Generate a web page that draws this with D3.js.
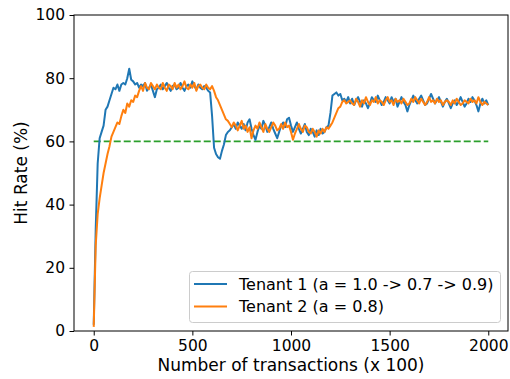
<!DOCTYPE html>
<html>
<head>
<meta charset="utf-8">
<script src="https://cdn.jsdelivr.net/npm/d3@7"></script>
<style>
  body { margin: 0; background: #fff; }
  svg { display: block; font-family: "DejaVu Sans", sans-serif; }
</style>
</head>
<body>
<div id="chart"></div>
<script>
// sampling grid: one point every 10 units (x 100 transactions)
const transactions = d3.range(0, 2001, 10);

// Tenant 1 hit rate (%)
const tenant1 = [
  2, 32, 53, 61, 63, 65, 70, 71, 73, 75,
  77, 76.5, 78, 76, 78, 78.5, 78, 80, 83, 79.5,
  79, 78, 78.5, 77, 78, 77.5, 78.5, 76, 77, 78,
  76, 74, 76.5, 77, 78, 76.5, 77.5, 78.5, 77, 76,
  77.5, 78, 76.5, 77, 78.5, 77, 76, 77.5, 78, 77,
  79, 77.5, 76.5, 78, 77, 76.5, 77.5, 77, 76, 75.5,
  68, 58, 56, 55, 54.5, 57, 59, 62, 63, 63.5,
  64.5, 65.5, 64, 66, 65, 64, 65.5, 63.5, 66, 67,
  64, 62, 60.5, 63, 65, 64, 66.5, 65, 63, 64.5,
  66, 64, 62.5, 61, 63, 65, 66, 64.5, 67, 67.5,
  65, 63, 64.5, 66, 64, 62.5, 64, 65.5, 63, 62,
  64, 63, 61.5, 63.5, 62, 64, 62.5, 63, 64.5, 65,
  69, 74.5, 75, 75.5, 74.5, 75, 73, 73.5, 72.5, 74,
  72, 73.5, 71.5, 73, 74, 72.5, 71, 73, 72, 70.5,
  72, 74, 73, 72.5, 74.5, 73, 71.5, 72.5, 74, 73,
  72, 74, 72.5, 73.5, 71, 72.5, 74, 72.5, 71.5, 69.5,
  71.5, 73, 74.5, 73, 72, 73.5, 74.5, 73, 71.5, 72,
  73.5, 75, 73.5, 72, 73, 74, 72.5, 71, 72.5, 73.5,
  72, 70.5, 72, 73, 71.5, 72.5, 74, 72.5, 71, 72,
  73.5, 72.5, 74, 73, 71.5, 69.5, 72, 73.5, 72, 73,
  71.5
];

// Tenant 2 hit rate (%)
const tenant2 = [
  1.3, 27, 37, 42, 46, 50, 53, 56, 58.5, 61.5,
  63, 64.5, 66, 65.5, 68, 70, 69, 72, 71, 73,
  72.5, 74.5, 74, 76, 77.5, 76, 78.5, 77, 76.5, 78.5,
  77.5, 76.5, 78, 77, 76.5, 78.5, 77, 76, 78, 77.5,
  76.5, 78.5, 77, 78, 76.5, 77.5, 79, 77, 76.5, 78,
  77, 78.5, 76, 77.5, 78, 77, 76.5, 78, 77, 76.5,
  77.5, 76, 74, 73, 71.5, 70, 68.5, 67, 66.5, 65.5,
  64.5, 66, 65, 63.5, 65, 66.5, 64, 65, 63, 64.5,
  61, 63.5, 65, 64, 66, 64.5, 63, 65.5, 64, 63,
  64.5, 66, 65, 63.5, 64, 65.5, 64, 66, 64.5, 65,
  63, 60.5, 62.5, 64, 65.5, 64, 63, 65, 64.5, 63,
  62.5, 64, 63, 61.5, 63.5, 62.5, 64, 63, 64.5, 64,
  65, 66, 67.5, 69, 70.5, 71, 72.5, 73, 72, 72.5,
  73, 72, 71.5, 73.5, 72.5, 71, 73, 72, 74, 72.5,
  71.5, 73, 72.5, 74, 72, 73, 72.5, 71.5, 73, 74,
  72.5, 73, 71.5, 73.5, 72.5, 73, 72, 73.5, 72.5, 71.5,
  72, 73.5, 72.5, 74, 73, 72, 73.5, 72.5, 71.5, 72.5,
  74, 72.5, 73, 72, 73.5, 72.5, 73, 71.5, 72.5, 73,
  72.5, 71.5, 73, 72, 73.5, 72.5, 71.5, 72, 73, 72.5,
  72, 73.5, 72.5, 73, 72, 74, 72.5, 71.5, 72.5, 72,
  71.5
];

const target = 60;
const xTicks = [0, 500, 1000, 1500, 2000];
const yTicks = [0, 20, 40, 60, 80, 100];
const seriesNames = ["Tenant 1 (a = 1.0 -> 0.7 -> 0.9)", "Tenant 2 (a = 0.8)"];
const seriesColors = ["#1f77b4", "#ff7f0e"];

const W = 510, H = 379;
const plotLeft = 74, plotRight = 508, plotTop = 15, plotBottom = 331;
const TICK_FONT = "15.5px";
const LABEL_FONT = "17px";
const LEGEND_FONT = "16px";

const x = d3.scaleLinear().domain([-100, 2100]).range([plotLeft, plotRight]);
const y = d3.scaleLinear().domain([0, 100]).range([plotBottom, plotTop]);

const svg = d3.select("#chart").append("svg")
    .attr("width", W)
    .attr("height", H);

const line = d3.line()
    .x((d, i) => x(transactions[i]))
    .y(d => y(d));

// target line
svg.append("line")
    .attr("x1", x(0)).attr("x2", x(2000))
    .attr("y1", y(target)).attr("y2", y(target))
    .attr("stroke", "#2ca02c")
    .attr("stroke-width", 1.9)
    .attr("stroke-dasharray", "7,3");

[tenant1, tenant2].forEach((s, k) => {
    svg.append("path")
        .datum(s)
        .attr("fill", "none")
        .attr("stroke", seriesColors[k])
        .attr("stroke-width", 2)
        .attr("stroke-linejoin", "round")
        .attr("d", line);
});

// axes
const xAxis = svg.append("g")
    .attr("transform", `translate(0,${plotBottom})`)
    .call(d3.axisBottom(x).tickValues(xTicks).tickFormat(d3.format("d"))
        .tickSize(4.5).tickPadding(4.5));
const yAxis = svg.append("g")
    .attr("transform", `translate(${plotLeft},0)`)
    .call(d3.axisLeft(y).tickValues(yTicks).tickFormat(d3.format("d"))
        .tickSize(4.5).tickPadding(4.5));

[xAxis, yAxis].forEach(a => {
    a.select(".domain").remove();
    a.selectAll("text").attr("font-size", TICK_FONT).attr("font-family", "DejaVu Sans").attr("fill", "#000");
    a.selectAll("line").attr("stroke", "#000").attr("stroke-width", 1);
});

// spines
svg.append("rect")
    .attr("x", plotLeft).attr("y", plotTop)
    .attr("width", plotRight - plotLeft).attr("height", plotBottom - plotTop)
    .attr("fill", "none")
    .attr("stroke", "#000")
    .attr("stroke-width", 1);

svg.append("text")
    .attr("x", (plotLeft + plotRight) / 2)
    .attr("y", 371)
    .attr("text-anchor", "middle")
    .attr("font-size", LABEL_FONT)
    .text("Number of transactions (x 100)");

svg.append("text")
    .attr("transform", `translate(27,${(plotTop + plotBottom) / 2}) rotate(-90)`)
    .attr("text-anchor", "middle")
    .attr("font-size", LABEL_FONT)
    .text("Hit Rate (%)");

// legend
const legend = svg.append("g");
legend.append("rect")
    .attr("x", 189.5).attr("y", 271.5)
    .attr("width", 311).attr("height", 51)
    .attr("rx", 3)
    .attr("fill", "#fff")
    .attr("fill-opacity", 0.8)
    .attr("stroke", "#ccc")
    .attr("stroke-width", 1);

seriesNames.forEach((name, k) => {
    const ly = 284 + k * 22.5;
    legend.append("line")
        .attr("x1", 194).attr("x2", 227)
        .attr("y1", ly).attr("y2", ly)
        .attr("stroke", seriesColors[k])
        .attr("stroke-width", 1.9);
    legend.append("text")
        .attr("x", 239)
        .attr("y", ly + 5.5)
        .attr("font-size", LEGEND_FONT)
        .text(name);
});
</script>
</body>
</html>
